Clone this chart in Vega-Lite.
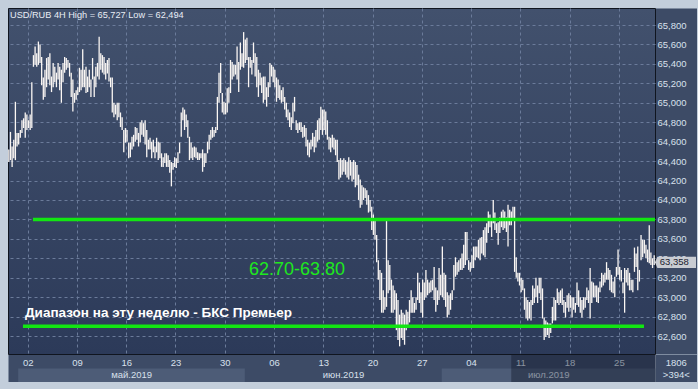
{
"$schema":"https://vega.github.io/schema/vega-lite/v6.json",
"width":647,"height":346,
"autosize":{"type":"none"},
"padding":{"left":8,"top":8,"right":43,"bottom":35},
"background":"#c3cedb",
"config":{
 "locale":{"number":{"decimal":",","thousands":"\u00a0","grouping":[3],"currency":["",""]}},
 "view":{"fill":{"gradient":"linear","x1":0,"y1":0,"x2":0,"y2":1,"stops":[{"offset":0,"color":"#42516d"},{"offset":1,"color":"#2c3a59"}]},"stroke":"#10151f","strokeWidth":1},
 "axis":{"labelFont":"Liberation Sans","labelFontSize":9.5,"labelColor":"#d8e0ec","title":null}
},
"resolve":{"axis":{"x":"independent","y":"independent"}},
"datasets":{"bars":[
{"i":0,"l":64.39,"h":64.52},{"i":1,"l":64.41,"h":64.70},{"i":2,"l":64.34,"h":64.55},{"i":3,"l":64.43,"h":64.62},{"i":4,"l":64.41,"h":65.01},{"i":5,"l":64.55,"h":64.69},
{"i":6,"l":64.57,"h":64.69},{"i":7,"l":64.64,"h":64.72},{"i":8,"l":64.69,"h":64.82},{"i":9,"l":64.74,"h":64.84},{"i":10,"l":64.64,"h":64.90},{"i":11,"l":64.72,"h":64.88},
{"i":12,"l":64.74,"h":64.82},{"i":13,"l":64.72,"h":64.88},{"i":14,"l":64.74,"h":65.21},{"i":15,"l":65.37,"h":65.49},{"i":16,"l":65.39,"h":65.58},{"i":17,"l":65.37,"h":65.51},
{"i":18,"l":65.39,"h":65.63},{"i":19,"l":65.41,"h":65.60},{"i":20,"l":65.18,"h":65.47},{"i":21,"l":65.03,"h":65.26},{"i":22,"l":65.06,"h":65.34},{"i":23,"l":65.16,"h":65.46},
{"i":24,"l":65.24,"h":65.47},{"i":25,"l":65.18,"h":65.51},{"i":26,"l":65.11,"h":65.27},{"i":27,"l":65.16,"h":65.41},{"i":28,"l":65.21,"h":65.37},{"i":29,"l":65.16,"h":65.31},
{"i":30,"l":65.24,"h":65.41},{"i":31,"l":65.13,"h":65.37},{"i":32,"l":65.00,"h":65.34},{"i":33,"l":65.21,"h":65.41},{"i":34,"l":65.31,"h":65.47},{"i":35,"l":65.34,"h":65.46},
{"i":36,"l":65.36,"h":65.44},{"i":37,"l":65.27,"h":65.41},{"i":38,"l":65.06,"h":65.31},{"i":39,"l":64.91,"h":65.24},{"i":40,"l":65.00,"h":65.10},{"i":41,"l":65.03,"h":65.13},
{"i":42,"l":65.08,"h":65.16},{"i":43,"l":65.11,"h":65.36},{"i":44,"l":65.13,"h":65.34},{"i":45,"l":65.16,"h":65.55},{"i":46,"l":65.16,"h":65.34},{"i":47,"l":65.10,"h":65.37},
{"i":48,"l":65.11,"h":65.27},{"i":49,"l":65.16,"h":65.34},{"i":50,"l":65.06,"h":65.24},{"i":51,"l":65.24,"h":65.46},{"i":52,"l":65.06,"h":65.27},{"i":53,"l":65.16,"h":65.37},
{"i":54,"l":65.27,"h":65.41},{"i":55,"l":65.24,"h":65.68},{"i":56,"l":65.34,"h":65.51},{"i":57,"l":65.31,"h":65.49},{"i":58,"l":65.29,"h":65.47},{"i":59,"l":65.24,"h":65.41},
{"i":60,"l":65.30,"h":65.44},{"i":61,"l":65.22,"h":65.46},{"i":62,"l":65.16,"h":65.26},{"i":63,"l":64.90,"h":65.26},{"i":64,"l":64.85,"h":65.00},{"i":65,"l":64.88,"h":64.98},
{"i":66,"l":64.82,"h":65.00},{"i":67,"l":64.85,"h":65.00},{"i":68,"l":64.75,"h":64.90},{"i":69,"l":64.72,"h":64.85},{"i":70,"l":64.49,"h":64.72},{"i":71,"l":64.59,"h":64.74},
{"i":72,"l":64.60,"h":64.72},{"i":73,"l":64.43,"h":64.59},{"i":74,"l":64.44,"h":64.59},{"i":75,"l":64.52,"h":64.65},{"i":76,"l":64.55,"h":64.67},{"i":77,"l":64.60,"h":64.75},
{"i":78,"l":64.62,"h":64.74},{"i":79,"l":64.55,"h":64.69},{"i":80,"l":64.59,"h":64.80},{"i":81,"l":64.67,"h":64.82},{"i":82,"l":64.65,"h":64.79},{"i":83,"l":64.57,"h":64.82},
{"i":84,"l":64.44,"h":64.72},{"i":85,"l":64.52,"h":64.62},{"i":86,"l":64.52,"h":64.64},{"i":87,"l":64.43,"h":64.60},{"i":88,"l":64.49,"h":64.62},{"i":89,"l":64.43,"h":64.55},
{"i":90,"l":64.49,"h":64.64},{"i":91,"l":64.41,"h":64.60},{"i":92,"l":64.43,"h":64.59},{"i":93,"l":64.34,"h":64.48},{"i":94,"l":64.34,"h":64.44},{"i":95,"l":64.38,"h":64.48},
{"i":96,"l":64.34,"h":64.48},{"i":97,"l":64.34,"h":64.46},{"i":98,"l":64.28,"h":64.41},{"i":99,"l":64.14,"h":64.39},{"i":100,"l":64.31,"h":64.38},{"i":101,"l":64.34,"h":64.44},
{"i":102,"l":64.33,"h":64.43},{"i":103,"l":64.38,"h":64.49},{"i":104,"l":64.48,"h":64.59},{"i":105,"l":64.65,"h":64.90},{"i":106,"l":64.82,"h":64.95},{"i":107,"l":64.72,"h":64.93},
{"i":108,"l":64.75,"h":64.88},{"i":109,"l":64.64,"h":64.82},{"i":110,"l":64.41,"h":64.65},{"i":111,"l":64.43,"h":64.59},{"i":112,"l":64.41,"h":64.54},{"i":113,"l":64.44,"h":64.55},
{"i":114,"l":64.43,"h":64.54},{"i":115,"l":64.41,"h":64.49},{"i":116,"l":64.41,"h":64.48},{"i":117,"l":64.43,"h":64.48},{"i":118,"l":64.29,"h":64.52},{"i":119,"l":64.34,"h":64.48},
{"i":120,"l":64.38,"h":64.48},{"i":121,"l":64.48,"h":64.60},{"i":122,"l":64.52,"h":64.67},{"i":123,"l":64.62,"h":64.72},{"i":124,"l":64.64,"h":64.75},{"i":125,"l":64.65,"h":64.72},
{"i":126,"l":64.69,"h":64.75},{"i":127,"l":64.72,"h":65.06},{"i":128,"l":65.00,"h":65.31},{"i":129,"l":65.10,"h":65.41},{"i":130,"l":64.90,"h":65.10},{"i":131,"l":64.88,"h":65.01},
{"i":132,"l":64.88,"h":65.00},{"i":133,"l":64.90,"h":65.15},{"i":134,"l":65.00,"h":65.16},{"i":135,"l":65.10,"h":65.44},{"i":136,"l":65.24,"h":65.42},{"i":137,"l":65.27,"h":65.39},
{"i":138,"l":65.29,"h":65.39},{"i":139,"l":65.24,"h":65.58},{"i":140,"l":65.11,"h":65.42},{"i":141,"l":65.34,"h":65.62},{"i":142,"l":65.37,"h":65.51},{"i":143,"l":65.36,"h":65.727},
{"i":144,"l":65.41,"h":65.65},{"i":145,"l":65.44,"h":65.67},{"i":146,"l":65.16,"h":65.47},{"i":147,"l":65.36,"h":65.47},{"i":148,"l":65.29,"h":65.44},{"i":149,"l":65.41,"h":65.62},
{"i":150,"l":65.27,"h":65.51},{"i":151,"l":65.16,"h":65.47},{"i":152,"l":65.06,"h":65.34},{"i":153,"l":65.18,"h":65.31},{"i":154,"l":65.10,"h":65.26},{"i":155,"l":65.00,"h":65.27},
{"i":156,"l":65.03,"h":65.27},{"i":157,"l":64.96,"h":65.16},{"i":158,"l":65.06,"h":65.21},{"i":159,"l":65.16,"h":65.41},{"i":160,"l":65.27,"h":65.39},{"i":161,"l":65.21,"h":65.37},
{"i":162,"l":65.16,"h":65.34},{"i":163,"l":65.01,"h":65.26},{"i":164,"l":65.05,"h":65.24},{"i":165,"l":65.03,"h":65.18},{"i":166,"l":65.00,"h":65.13},{"i":167,"l":65.01,"h":65.16},
{"i":168,"l":64.93,"h":65.06},{"i":169,"l":64.85,"h":65.00},{"i":170,"l":64.82,"h":64.93},{"i":171,"l":64.75,"h":64.90},{"i":172,"l":64.72,"h":64.85},{"i":173,"l":64.79,"h":65.00},
{"i":174,"l":64.91,"h":65.06},{"i":175,"l":64.72,"h":64.82},{"i":176,"l":64.69,"h":64.79},{"i":177,"l":64.72,"h":64.80},{"i":178,"l":64.70,"h":64.80},{"i":179,"l":64.64,"h":64.75},
{"i":180,"l":64.65,"h":64.77},{"i":181,"l":64.55,"h":64.74},{"i":182,"l":64.46,"h":64.62},{"i":183,"l":64.44,"h":64.59},{"i":184,"l":64.52,"h":64.62},{"i":185,"l":64.55,"h":64.69},
{"i":186,"l":64.49,"h":64.65},{"i":187,"l":64.54,"h":64.72},{"i":188,"l":64.60,"h":64.82},{"i":189,"l":64.62,"h":64.84},{"i":190,"l":64.72,"h":64.96},{"i":191,"l":64.67,"h":64.93},
{"i":192,"l":64.72,"h":64.93},{"i":193,"l":64.67,"h":64.91},{"i":194,"l":64.62,"h":64.82},{"i":195,"l":64.52,"h":64.65},{"i":196,"l":64.49,"h":64.64},{"i":197,"l":64.54,"h":64.67},
{"i":198,"l":64.52,"h":64.64},{"i":199,"l":64.46,"h":64.62},{"i":200,"l":64.39,"h":64.62},{"i":201,"l":64.21,"h":64.41},{"i":202,"l":64.23,"h":64.43},{"i":203,"l":64.26,"h":64.41},
{"i":204,"l":64.29,"h":64.43},{"i":205,"l":64.26,"h":64.41},{"i":206,"l":64.23,"h":64.39},{"i":207,"l":64.21,"h":64.44},{"i":208,"l":64.25,"h":64.41},{"i":209,"l":64.19,"h":64.39},
{"i":210,"l":64.21,"h":64.41},{"i":211,"l":64.13,"h":64.39},{"i":212,"l":64.15,"h":64.36},{"i":213,"l":64.00,"h":64.26},{"i":214,"l":63.92,"h":64.21},{"i":215,"l":63.95,"h":64.15},
{"i":216,"l":64.00,"h":64.13},{"i":217,"l":64.02,"h":64.12},{"i":218,"l":63.95,"h":64.10},{"i":219,"l":63.87,"h":64.05},{"i":220,"l":63.88,"h":64.00},{"i":221,"l":63.69,"h":63.93},
{"i":222,"l":63.64,"h":63.85},{"i":223,"l":63.59,"h":63.79},{"i":224,"l":63.36,"h":63.64},{"i":225,"l":63.18,"h":63.38},{"i":226,"l":62.97,"h":63.28},{"i":227,"l":62.84,"h":63.25},
{"i":228,"l":62.84,"h":63.07},{"i":229,"l":62.87,"h":63.00},{"i":230,"l":62.90,"h":63.79},{"i":231,"l":63.04,"h":63.38},{"i":232,"l":63.07,"h":63.33},{"i":233,"l":62.84,"h":63.18},
{"i":234,"l":62.84,"h":63.12},{"i":235,"l":62.87,"h":63.07},{"i":236,"l":62.66,"h":63.04},{"i":237,"l":62.56,"h":62.97},{"i":238,"l":62.494,"h":62.82},{"i":239,"l":62.58,"h":62.87},
{"i":240,"l":62.56,"h":62.84},{"i":241,"l":62.51,"h":62.82},{"i":242,"l":62.66,"h":62.87},{"i":243,"l":62.69,"h":62.85},{"i":244,"l":62.74,"h":62.97},{"i":245,"l":62.84,"h":63.07},
{"i":246,"l":62.84,"h":63.00},{"i":247,"l":62.84,"h":62.94},{"i":248,"l":62.87,"h":63.00},{"i":249,"l":62.97,"h":63.25},{"i":250,"l":62.94,"h":63.15},{"i":251,"l":62.84,"h":63.05},
{"i":252,"l":62.79,"h":63.18},{"i":253,"l":62.97,"h":63.15},{"i":254,"l":63.00,"h":63.28},{"i":255,"l":63.02,"h":63.18},{"i":256,"l":63.04,"h":63.15},{"i":257,"l":63.05,"h":63.17},
{"i":258,"l":63.07,"h":63.18},{"i":259,"l":62.97,"h":63.31},{"i":260,"l":62.85,"h":63.10},{"i":261,"l":62.92,"h":63.07},{"i":262,"l":62.97,"h":63.30},{"i":263,"l":63.02,"h":63.23},
{"i":264,"l":63.00,"h":63.52},{"i":265,"l":62.97,"h":63.25},{"i":266,"l":62.90,"h":63.23},{"i":267,"l":62.79,"h":63.05},{"i":268,"l":62.82,"h":63.02},{"i":269,"l":62.87,"h":63.04},
{"i":270,"l":62.97,"h":63.07},{"i":271,"l":63.07,"h":63.33},{"i":272,"l":63.21,"h":63.41},{"i":273,"l":63.23,"h":63.36},{"i":274,"l":63.26,"h":63.38},{"i":275,"l":63.28,"h":63.40},
{"i":276,"l":63.28,"h":63.45},{"i":277,"l":63.30,"h":63.54},{"i":278,"l":63.33,"h":63.67},{"i":279,"l":63.38,"h":63.67},{"i":280,"l":63.28,"h":63.38},{"i":281,"l":63.26,"h":63.36},
{"i":282,"l":63.30,"h":63.43},{"i":283,"l":63.30,"h":63.52},{"i":284,"l":63.38,"h":63.52},{"i":285,"l":63.41,"h":63.52},{"i":286,"l":63.40,"h":63.59},{"i":287,"l":63.38,"h":63.61},
{"i":288,"l":63.45,"h":63.62},{"i":289,"l":63.43,"h":63.69},{"i":290,"l":63.41,"h":63.72},{"i":291,"l":63.56,"h":63.76},{"i":292,"l":63.66,"h":63.88},{"i":293,"l":63.72,"h":63.85},
{"i":294,"l":63.62,"h":63.81},{"i":295,"l":63.76,"h":64.00},{"i":296,"l":63.69,"h":63.87},{"i":297,"l":63.66,"h":63.76},{"i":298,"l":63.54,"h":63.77},{"i":299,"l":63.66,"h":63.82},
{"i":300,"l":63.72,"h":63.88},{"i":301,"l":63.69,"h":63.90},{"i":302,"l":63.71,"h":63.88},{"i":303,"l":63.67,"h":63.82},{"i":304,"l":63.52,"h":63.95},{"i":305,"l":63.74,"h":63.90},
{"i":306,"l":63.74,"h":63.88},{"i":307,"l":63.79,"h":63.93},{"i":308,"l":63.26,"h":63.93},{"i":309,"l":63.20,"h":63.41},{"i":310,"l":63.16,"h":63.25},{"i":311,"l":63.12,"h":63.25},
{"i":312,"l":63.05,"h":63.20},{"i":313,"l":63.07,"h":63.18},{"i":314,"l":62.87,"h":63.09},{"i":315,"l":62.78,"h":63.00},{"i":316,"l":62.76,"h":62.97},{"i":317,"l":62.78,"h":62.95},
{"i":318,"l":62.76,"h":62.97},{"i":319,"l":62.92,"h":63.12},{"i":320,"l":62.94,"h":63.09},{"i":321,"l":63.00,"h":63.20},{"i":322,"l":62.94,"h":63.12},{"i":323,"l":63.04,"h":63.20},
{"i":324,"l":62.97,"h":63.20},{"i":325,"l":62.78,"h":63.09},{"i":326,"l":62.56,"h":62.79},{"i":327,"l":62.59,"h":62.76},{"i":328,"l":62.61,"h":62.74},{"i":329,"l":62.58,"h":62.73},
{"i":330,"l":62.63,"h":62.73},{"i":331,"l":62.73,"h":62.90},{"i":332,"l":62.76,"h":63.00},{"i":333,"l":62.76,"h":62.97},{"i":334,"l":62.94,"h":63.09},{"i":335,"l":62.92,"h":63.05},
{"i":336,"l":62.94,"h":63.07},{"i":337,"l":62.92,"h":63.09},{"i":338,"l":62.84,"h":62.97},{"i":339,"l":62.79,"h":62.95},{"i":340,"l":62.89,"h":63.02},{"i":341,"l":62.85,"h":63.04},
{"i":342,"l":62.89,"h":63.02},{"i":343,"l":62.79,"h":63.00},{"i":344,"l":62.87,"h":63.00},{"i":345,"l":62.84,"h":62.94},{"i":346,"l":62.92,"h":63.15},{"i":347,"l":62.90,"h":63.07},
{"i":348,"l":62.84,"h":63.00},{"i":349,"l":62.79,"h":62.97},{"i":350,"l":62.87,"h":63.00},{"i":351,"l":62.89,"h":63.00},{"i":352,"l":62.97,"h":63.10},{"i":353,"l":62.94,"h":63.07},
{"i":354,"l":62.78,"h":63.30},{"i":355,"l":62.94,"h":63.16},{"i":356,"l":63.00,"h":63.15},{"i":357,"l":63.00,"h":63.12},{"i":358,"l":62.95,"h":63.12},{"i":359,"l":62.94,"h":63.10},
{"i":360,"l":63.05,"h":63.16},{"i":361,"l":63.10,"h":63.25},{"i":362,"l":63.12,"h":63.23},{"i":363,"l":63.15,"h":63.25},{"i":364,"l":63.18,"h":63.36},{"i":365,"l":63.18,"h":63.30},
{"i":366,"l":63.07,"h":63.28},{"i":367,"l":63.05,"h":63.23},{"i":368,"l":63.04,"h":63.16},{"i":369,"l":63.00,"h":63.21},{"i":370,"l":63.21,"h":63.31},{"i":371,"l":63.23,"h":63.49},
{"i":372,"l":63.18,"h":63.31},{"i":373,"l":63.16,"h":63.28},{"i":374,"l":63.04,"h":63.15},{"i":375,"l":62.84,"h":63.30},{"i":376,"l":63.15,"h":63.28},{"i":377,"l":63.12,"h":63.30},
{"i":378,"l":63.07,"h":63.25},{"i":379,"l":63.07,"h":63.18},{"i":380,"l":63.05,"h":63.18},{"i":381,"l":63.26,"h":63.51},{"i":382,"l":63.31,"h":63.45},{"i":383,"l":63.07,"h":63.52},
{"i":384,"l":63.16,"h":63.28},{"i":385,"l":63.38,"h":63.64},{"i":386,"l":63.41,"h":63.59},{"i":387,"l":63.45,"h":63.59},{"i":388,"l":63.40,"h":63.54},{"i":389,"l":63.36,"h":63.49},
{"i":390,"l":63.35,"h":63.74},{"i":391,"l":63.33,"h":63.46},{"i":392,"l":63.30,"h":63.40},{"i":393,"l":63.33,"h":63.43}
]},
"layer":[
 {
  "data":{"name":"bars"},
  "mark":{"type":"rule","color":"#fbf7f4","strokeWidth":1.3},
  "encoding":{
   "x":{"field":"i","type":"quantitative","scale":{"domain":[-0.5,393.5],"nice":false,"zero":false},
    "axis":{"orient":"bottom","title":null,"values":[11.5],"labels":false,"ticks":false,"grid":false,
     "offset":14,"domain":true,"domainColor":"#3d4b66","domainWidth":27,"domainCap":"butt","zindex":0}},
   "y":{"field":"l","type":"quantitative","scale":{"domain":[62.415,65.975],"nice":false,"zero":false},
    "axis":{"orient":"right","title":null,"values":[63.0],"labels":false,"ticks":false,"grid":false,
     "offset":21,"domain":true,"domainColor":"#3d4b66","domainWidth":41,"domainCap":"butt","zindex":0}},
   "y2":{"field":"h"}
  }
 },
 {
  "data":{"values":[{"lvl":63.8,"from":14.7,"to":393.5},{"lvl":62.7,"from":8.6,"to":386.8}]},
  "mark":{"type":"rule","color":"#12e612","strokeWidth":3.5,"strokeCap":"butt"},
  "encoding":{
   "x":{"field":"from","type":"quantitative","scale":{"domain":[-0.5,393.5],"nice":false,"zero":false},
    "axis":{"orient":"bottom","title":null,"values":[11.5,41.5,71.5,101.5,131.5,161.5,191.5,221.5,251.5,281.5,311.5,341.5,371.5],
     "labelExpr":"['02','09','16','23','30','06','13','20','27','04','11','18','25'][round((datum.value-11.5)/30)]",
     "domain":false,"ticks":false,"tickSize":0,"labelPadding":8,"labelBaseline":"middle","labelAlign":"center",
     "grid":true,"gridColor":"#6b7b9a","gridDash":[3,3],"gridWidth":1,
     "labelFlush":false,"labelOverlap":false,"labelBound":false,"zindex":0}},
   "x2":{"field":"to"},
   "y":{"field":"lvl","type":"quantitative","scale":{"domain":[62.415,65.975],"nice":false,"zero":false},
    "axis":{"orient":"right","title":null,"values":[62.6,62.8,63.0,63.2,63.4,63.6,63.8,64.0,64.2,64.4,64.6,64.8,65.0,65.2,65.4,65.6,65.8],
     "format":".3f","domain":false,"ticks":false,"tickSize":0,"labelPadding":2,"labelAlign":"left","labelBaseline":"middle",
     "grid":true,"gridColor":"#6b7b9a","gridDash":[3,3],"gridWidth":1,
     "labelFlush":false,"labelOverlap":false,"labelBound":false,"zindex":0}}
  }
 },
 {
  "data":{"values":[{"x":0.72,"y":65.867,"t":"USD/RUB 4H High = 65,727 Low = 62,494"}]},
  "mark":{"type":"text","align":"left","baseline":"alphabetic","font":"Liberation Sans","fontSize":9.2,"color":"#e8edf5"},
  "encoding":{
   "x":{"field":"x","type":"quantitative","scale":{"domain":[-0.5,393.5],"nice":false,"zero":false},
    "axis":{"orient":"bottom","title":null,"values":[74.5,203.5,328.5],
     "labelExpr":"datum.value < 100 ? 'май.2019' : (datum.value < 250 ? 'июн.2019' : 'июл.2019')",
     "offset":27.5,"domain":false,"grid":false,"ticks":true,"tickSize":-13.5,
     "tickWidth":{"condition":{"test":"datum.value < 100","value":226.6},"value":213.5},
     "tickColor":"#4d5c77",
     "tickOpacity":{"condition":{"test":"datum.value > 100 && datum.value < 250","value":0},"value":1},
     "labelPadding":6,"labelBaseline":"middle","labelAlign":"center",
     "labelFlush":false,"labelOverlap":false,"labelBound":false,"zindex":2}},
   "y":{"field":"y","type":"quantitative","scale":{"domain":[62.415,65.975],"nice":false,"zero":false},"axis":null},
   "text":{"field":"t"}
  }
 },
 {
  "data":{"values":[{"x":9.85,"y":62.8,"t":"Диапазон на эту неделю - БКС Премьер"}]},
  "mark":{"type":"text","align":"left","baseline":"alphabetic","font":"Liberation Sans","fontWeight":"bold","fontSize":13.5,"color":"#ffffff"},
  "encoding":{
   "x":{"field":"x","type":"quantitative","scale":{"domain":[-0.5,393.5],"nice":false,"zero":false},
    "axis":{"orient":"bottom","title":null,"values":[336.7,393.4],
     "labelExpr":"datum.value > 390 ? ['1806','>394<'] : ''",
     "offset":27.5,"tickOffset":21,"domain":false,"grid":false,"ticks":true,"tickSize":-27,
     "tickWidth":{"condition":{"test":"datum.value > 390","value":41},"value":144.5},
     "tickColor":{"condition":{"test":"datum.value > 390","value":"#3d4b66"},"value":"#0b1122"},
     "tickOpacity":{"condition":{"test":"datum.value > 390","value":1},"value":0.38},
     "labelPadding":3,"labelBaseline":"top","labelAlign":"center","labelLineHeight":12,
     "labelFlush":false,"labelOverlap":false,"labelBound":false,"zindex":3}},
   "y":{"field":"y","type":"quantitative","scale":{"domain":[62.415,65.975],"nice":false,"zero":false},"axis":null},
   "text":{"field":"t"}
  }
 },
 {
  "data":{"values":[{"x":175.5,"y":63.223,"t":"62.70-63.80"}]},
  "mark":{"type":"text","align":"center","baseline":"alphabetic","font":"Liberation Sans","fontSize":18,"color":"#1ee81e"},
  "encoding":{
   "x":{"field":"x","type":"quantitative","scale":{"domain":[-0.5,393.5],"nice":false,"zero":false},"axis":null},
   "y":{"field":"y","type":"quantitative","scale":{"domain":[62.415,65.975],"nice":false,"zero":false},"axis":null},
   "text":{"field":"t"}
  }
 },
 {
  "data":{"values":[{"i":393,"c":63.358}]},
  "mark":{"type":"point","shape":"M0.04,0L0.16,-0.28L2.09,-0.28L2.09,0.28L0.16,0.28Z","size":1600,"filled":true,"fill":"#c9ccd2","opacity":1,"strokeWidth":0},
  "encoding":{
   "x":{"field":"i","type":"quantitative","scale":{"domain":[-0.5,393.5],"nice":false,"zero":false},"axis":null},
   "y":{"field":"c","type":"quantitative","scale":{"domain":[62.415,65.975],"nice":false,"zero":false},"axis":null}
  }
 },
 {
  "data":{"values":[{"i":393,"c":63.358}]},
  "mark":{"type":"text","align":"left","baseline":"middle","dx":5.5,"font":"Liberation Sans","fontSize":9.5,"color":"#1b2230"},
  "encoding":{
   "x":{"field":"i","type":"quantitative","scale":{"domain":[-0.5,393.5],"nice":false,"zero":false},"axis":null},
   "y":{"field":"c","type":"quantitative","scale":{"domain":[62.415,65.975],"nice":false,"zero":false},"axis":null},
   "text":{"field":"c","type":"quantitative","format":".3f"}
  }
 }
]
}
